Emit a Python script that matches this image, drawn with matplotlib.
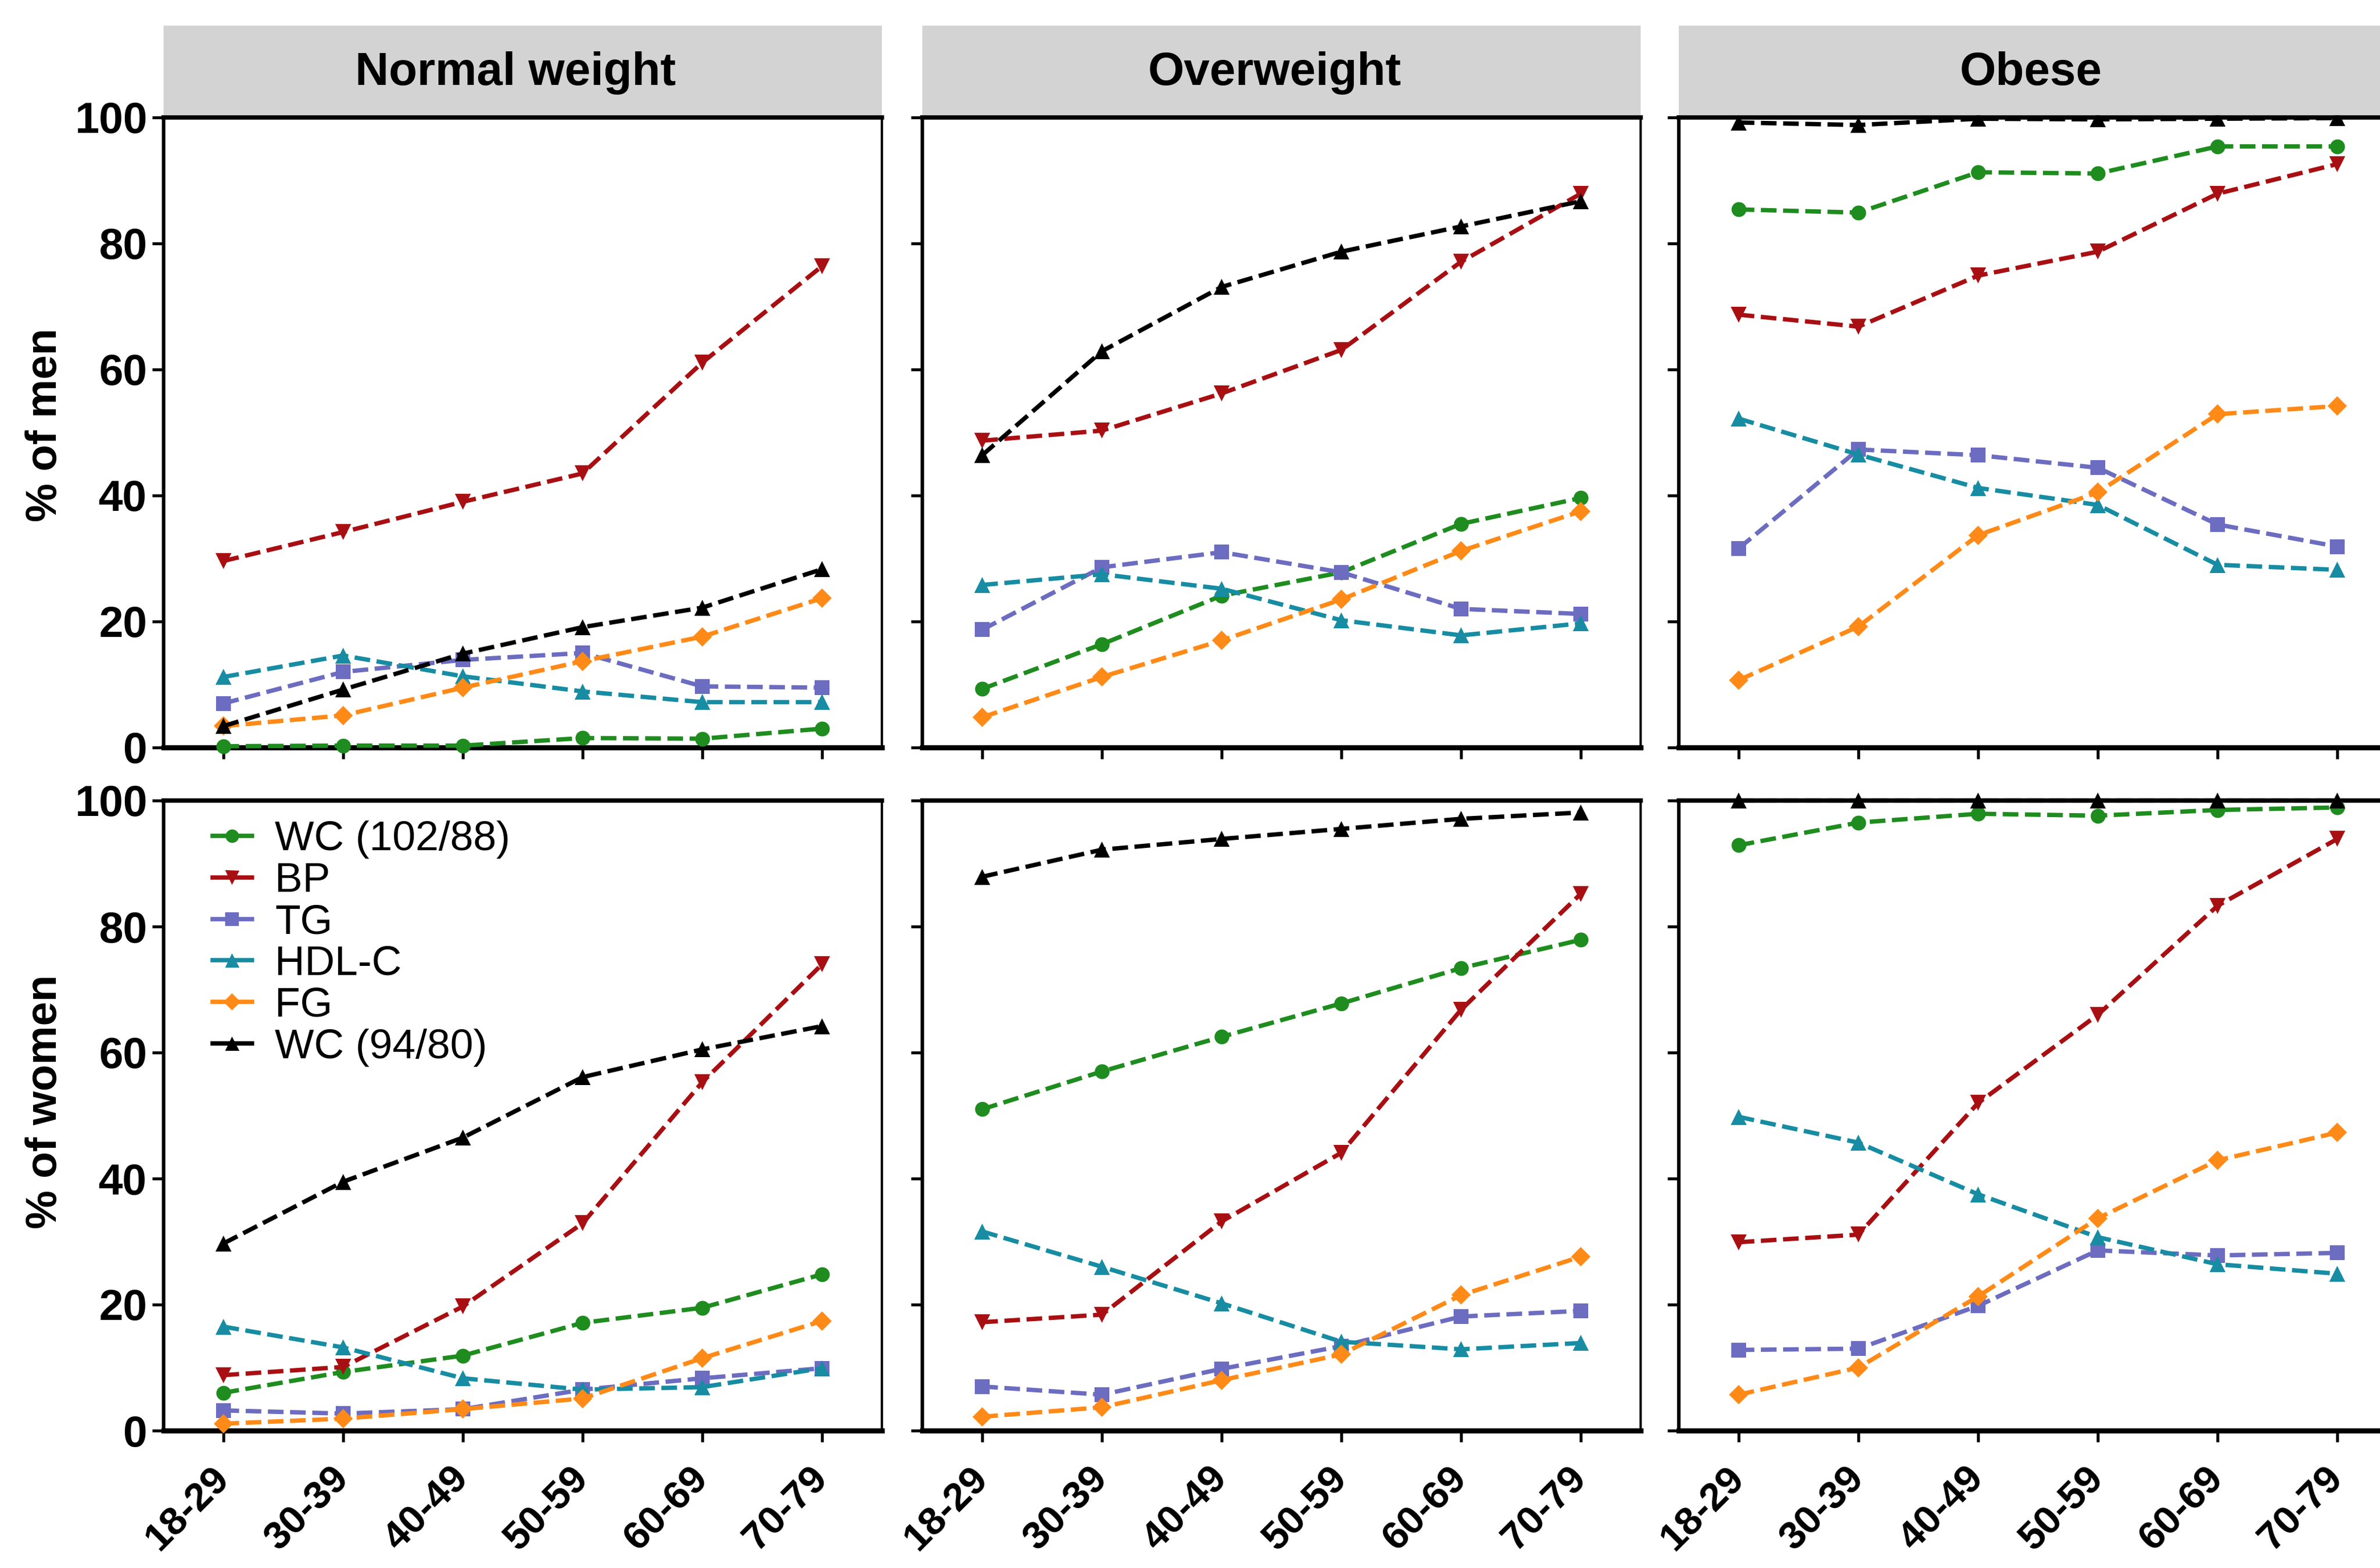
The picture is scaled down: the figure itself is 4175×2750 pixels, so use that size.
import matplotlib
matplotlib.use('Agg')
import matplotlib.pyplot as plt
from matplotlib.lines import Line2D

plt.rcParams['font.family'] = ['Liberation Sans', 'DejaVu Sans']

# ---------------- data ----------------
age_groups = ['18-29', '30-39', '40-49', '50-59', '60-69', '70-79']
bmi_groups = ['Normal weight', 'Overweight', 'Obese']
row_labels = ['% of men', '% of women']
series_names = ['WC (102/88)', 'BP', 'TG', 'HDL-C', 'FG', 'WC (94/80)']
y_ticks = [0, 20, 40, 60, 80, 100]

# Men
men_normal_wc102 = [0.2, 0.3, 0.3, 1.5, 1.4, 3.0]
men_normal_bp = [29.6, 34.2, 39.0, 43.5, 61.1, 76.4]
men_normal_tg = [7.0, 12.0, 13.9, 15.0, 9.7, 9.5]
men_normal_hdl = [11.2, 14.6, 11.3, 8.9, 7.2, 7.2]
men_normal_fg = [3.4, 5.1, 9.5, 13.7, 17.6, 23.7]
men_normal_wc94 = [3.4, 9.2, 14.9, 19.1, 22.2, 28.3]

men_over_wc102 = [9.3, 16.4, 24.1, 27.8, 35.5, 39.6]
men_over_bp = [48.7, 50.3, 56.2, 63.1, 77.1, 87.9]
men_over_tg = [18.7, 28.6, 31.0, 27.8, 22.0, 21.2]
men_over_hdl = [25.8, 27.5, 25.2, 20.2, 17.8, 19.7]
men_over_fg = [4.8, 11.2, 17.0, 23.5, 31.2, 37.5]
men_over_wc94 = [46.4, 62.9, 73.1, 78.7, 82.7, 86.7]

men_obese_wc102 = [85.4, 84.9, 91.3, 91.1, 95.4, 95.4]
men_obese_bp = [68.7, 66.8, 74.9, 78.7, 87.9, 92.6]
men_obese_tg = [31.6, 47.3, 46.4, 44.4, 35.4, 31.9]
men_obese_hdl = [52.2, 46.5, 41.2, 38.5, 29.0, 28.2]
men_obese_fg = [10.7, 19.2, 33.7, 40.5, 52.9, 54.2]
men_obese_wc94 = [99.2, 98.8, 99.8, 99.7, 99.8, 99.9]

# Women
women_normal_wc102 = [6.0, 9.3, 11.9, 17.1, 19.5, 24.8]
women_normal_bp = [8.8, 10.1, 19.7, 32.9, 55.3, 74.0]
women_normal_tg = [3.2, 2.7, 3.4, 6.5, 8.3, 9.9]
women_normal_hdl = [16.5, 13.2, 8.3, 6.5, 6.9, 9.9]
women_normal_fg = [1.1, 1.9, 3.4, 5.1, 11.5, 17.4]
women_normal_wc94 = [29.7, 39.5, 46.5, 56.1, 60.5, 64.2]

women_over_wc102 = [51.0, 57.0, 62.5, 67.8, 73.4, 77.9]
women_over_bp = [17.2, 18.4, 33.2, 44.1, 66.8, 85.2]
women_over_tg = [7.0, 5.7, 9.8, 13.4, 18.1, 19.0]
women_over_hdl = [31.6, 26.0, 20.2, 14.1, 12.9, 13.9]
women_over_fg = [2.2, 3.7, 8.0, 12.1, 21.5, 27.6]
women_over_wc94 = [87.9, 92.2, 93.9, 95.5, 97.1, 98.1]

women_obese_wc102 = [92.9, 96.5, 97.9, 97.6, 98.5, 98.9]
women_obese_bp = [29.9, 31.1, 52.0, 66.0, 83.3, 93.9]
women_obese_tg = [12.8, 13.0, 19.8, 28.6, 27.8, 28.2]
women_obese_hdl = [49.8, 45.7, 37.5, 30.7, 26.4, 24.9]
women_obese_fg = [5.7, 10.0, 21.3, 33.7, 42.9, 47.3]
women_obese_wc94 = [100, 100, 100, 100, 100, 100]

panels = [
    [  # men
        [men_normal_wc102, men_normal_bp, men_normal_tg, men_normal_hdl, men_normal_fg, men_normal_wc94],
        [men_over_wc102, men_over_bp, men_over_tg, men_over_hdl, men_over_fg, men_over_wc94],
        [men_obese_wc102, men_obese_bp, men_obese_tg, men_obese_hdl, men_obese_fg, men_obese_wc94],
    ],
    [  # women
        [women_normal_wc102, women_normal_bp, women_normal_tg, women_normal_hdl, women_normal_fg, women_normal_wc94],
        [women_over_wc102, women_over_bp, women_over_tg, women_over_hdl, women_over_fg, women_over_wc94],
        [women_obese_wc102, women_obese_bp, women_obese_tg, women_obese_hdl, women_obese_fg, women_obese_wc94],
    ],
]

# ---------------- styles ----------------
colors = ['#1E8C1E', '#A80F12', '#6C6CC0', '#178CA2', '#FF8A17', '#000000']
markers = ['o', 'v', 's', '^', 'D', '^']
msizes = [7.5, 8, 7.5, 8, 7, 8]

W, H = 4175, 2750
DPI = 250
fig = plt.figure(figsize=(W / DPI, H / DPI), dpi=DPI)

lefts = [287 / W, 1618 / W, 2945 / W]
width = 1260 / W
row_bottoms = [1 - 1311 / H, 1 - 2509 / H]
height = 1105 / H

x = list(range(len(age_groups)))
axes = [[None] * 3 for _ in range(2)]
for r in range(2):
    for c in range(3):
        ax = fig.add_axes([lefts[c], row_bottoms[r], width, height])
        axes[r][c] = ax
        for k, name in enumerate(series_names):
            ax.plot(x, panels[r][c][k], color=colors[k], marker=markers[k],
                    markersize=msizes[k], lw=2.2, dashes=(3.6, 1.5),
                    markeredgewidth=0, clip_on=False, zorder=3 + (k == 5))
        ax.set_xlim(-0.5, 5.5)
        ax.set_ylim(0, 100)
        ax.set_yticks(y_ticks)
        ax.set_xticks(x)
        ax.spines['left'].set_linewidth(1.8)
        ax.spines['bottom'].set_linewidth(2.6)
        ax.spines['top'].set_linewidth(2.2)
        ax.spines['right'].set_linewidth(1.2)
        ax.tick_params(axis='both', direction='out', length=5.8, width=1.5,
                       color='black')
        ax.tick_params(axis='y', pad=2.5, labelsize=22)
        if c == 0:
            for lab in ax.get_yticklabels():
                lab.set_fontweight('bold')
        else:
            ax.set_yticklabels([])
        if r == 1:
            ax.set_xticklabels(age_groups, fontsize=20, fontweight='bold',
                               rotation=45, ha='right', va='center',
                               rotation_mode='anchor')
            ax.tick_params(axis='x', pad=15.5)
        else:
            ax.set_xticklabels([])

# strip headers
for c in range(3):
    sax = fig.add_axes([lefts[c], 1 - 202 / H, width, 157 / H], zorder=10)
    sax.set_facecolor('#D3D3D3')
    for s in sax.spines.values():
        s.set_visible(False)
    sax.set_xticks([])
    sax.set_yticks([])
    sax.text(0.49, 0.47, bmi_groups[c], ha='center', va='center',
             fontsize=23.5, fontweight='bold', transform=sax.transAxes)

# row labels
fig.text(80 / W, 1 - 745 / H, row_labels[0], rotation=90, ha='center',
         va='center', fontsize=22, fontweight='bold')
fig.text(80 / W, 1 - 1932 / H, row_labels[1], rotation=90, ha='center',
         va='center', fontsize=22, fontweight='bold')

# legend
handles = [Line2D([0], [0], color=colors[k], marker=markers[k],
                  markersize=msizes[k] * 0.9, lw=2.2, markeredgewidth=0)
           for k in range(len(series_names))]
leg = axes[1][0].legend(handles, series_names, loc='upper left',
                        bbox_to_anchor=(0.068, 0.968), frameon=False,
                        fontsize=21, handlelength=0.95, handletextpad=0.55,
                        labelspacing=0.08, borderpad=0, borderaxespad=0,
                        numpoints=1)

fig.savefig('out.png', dpi=DPI)
